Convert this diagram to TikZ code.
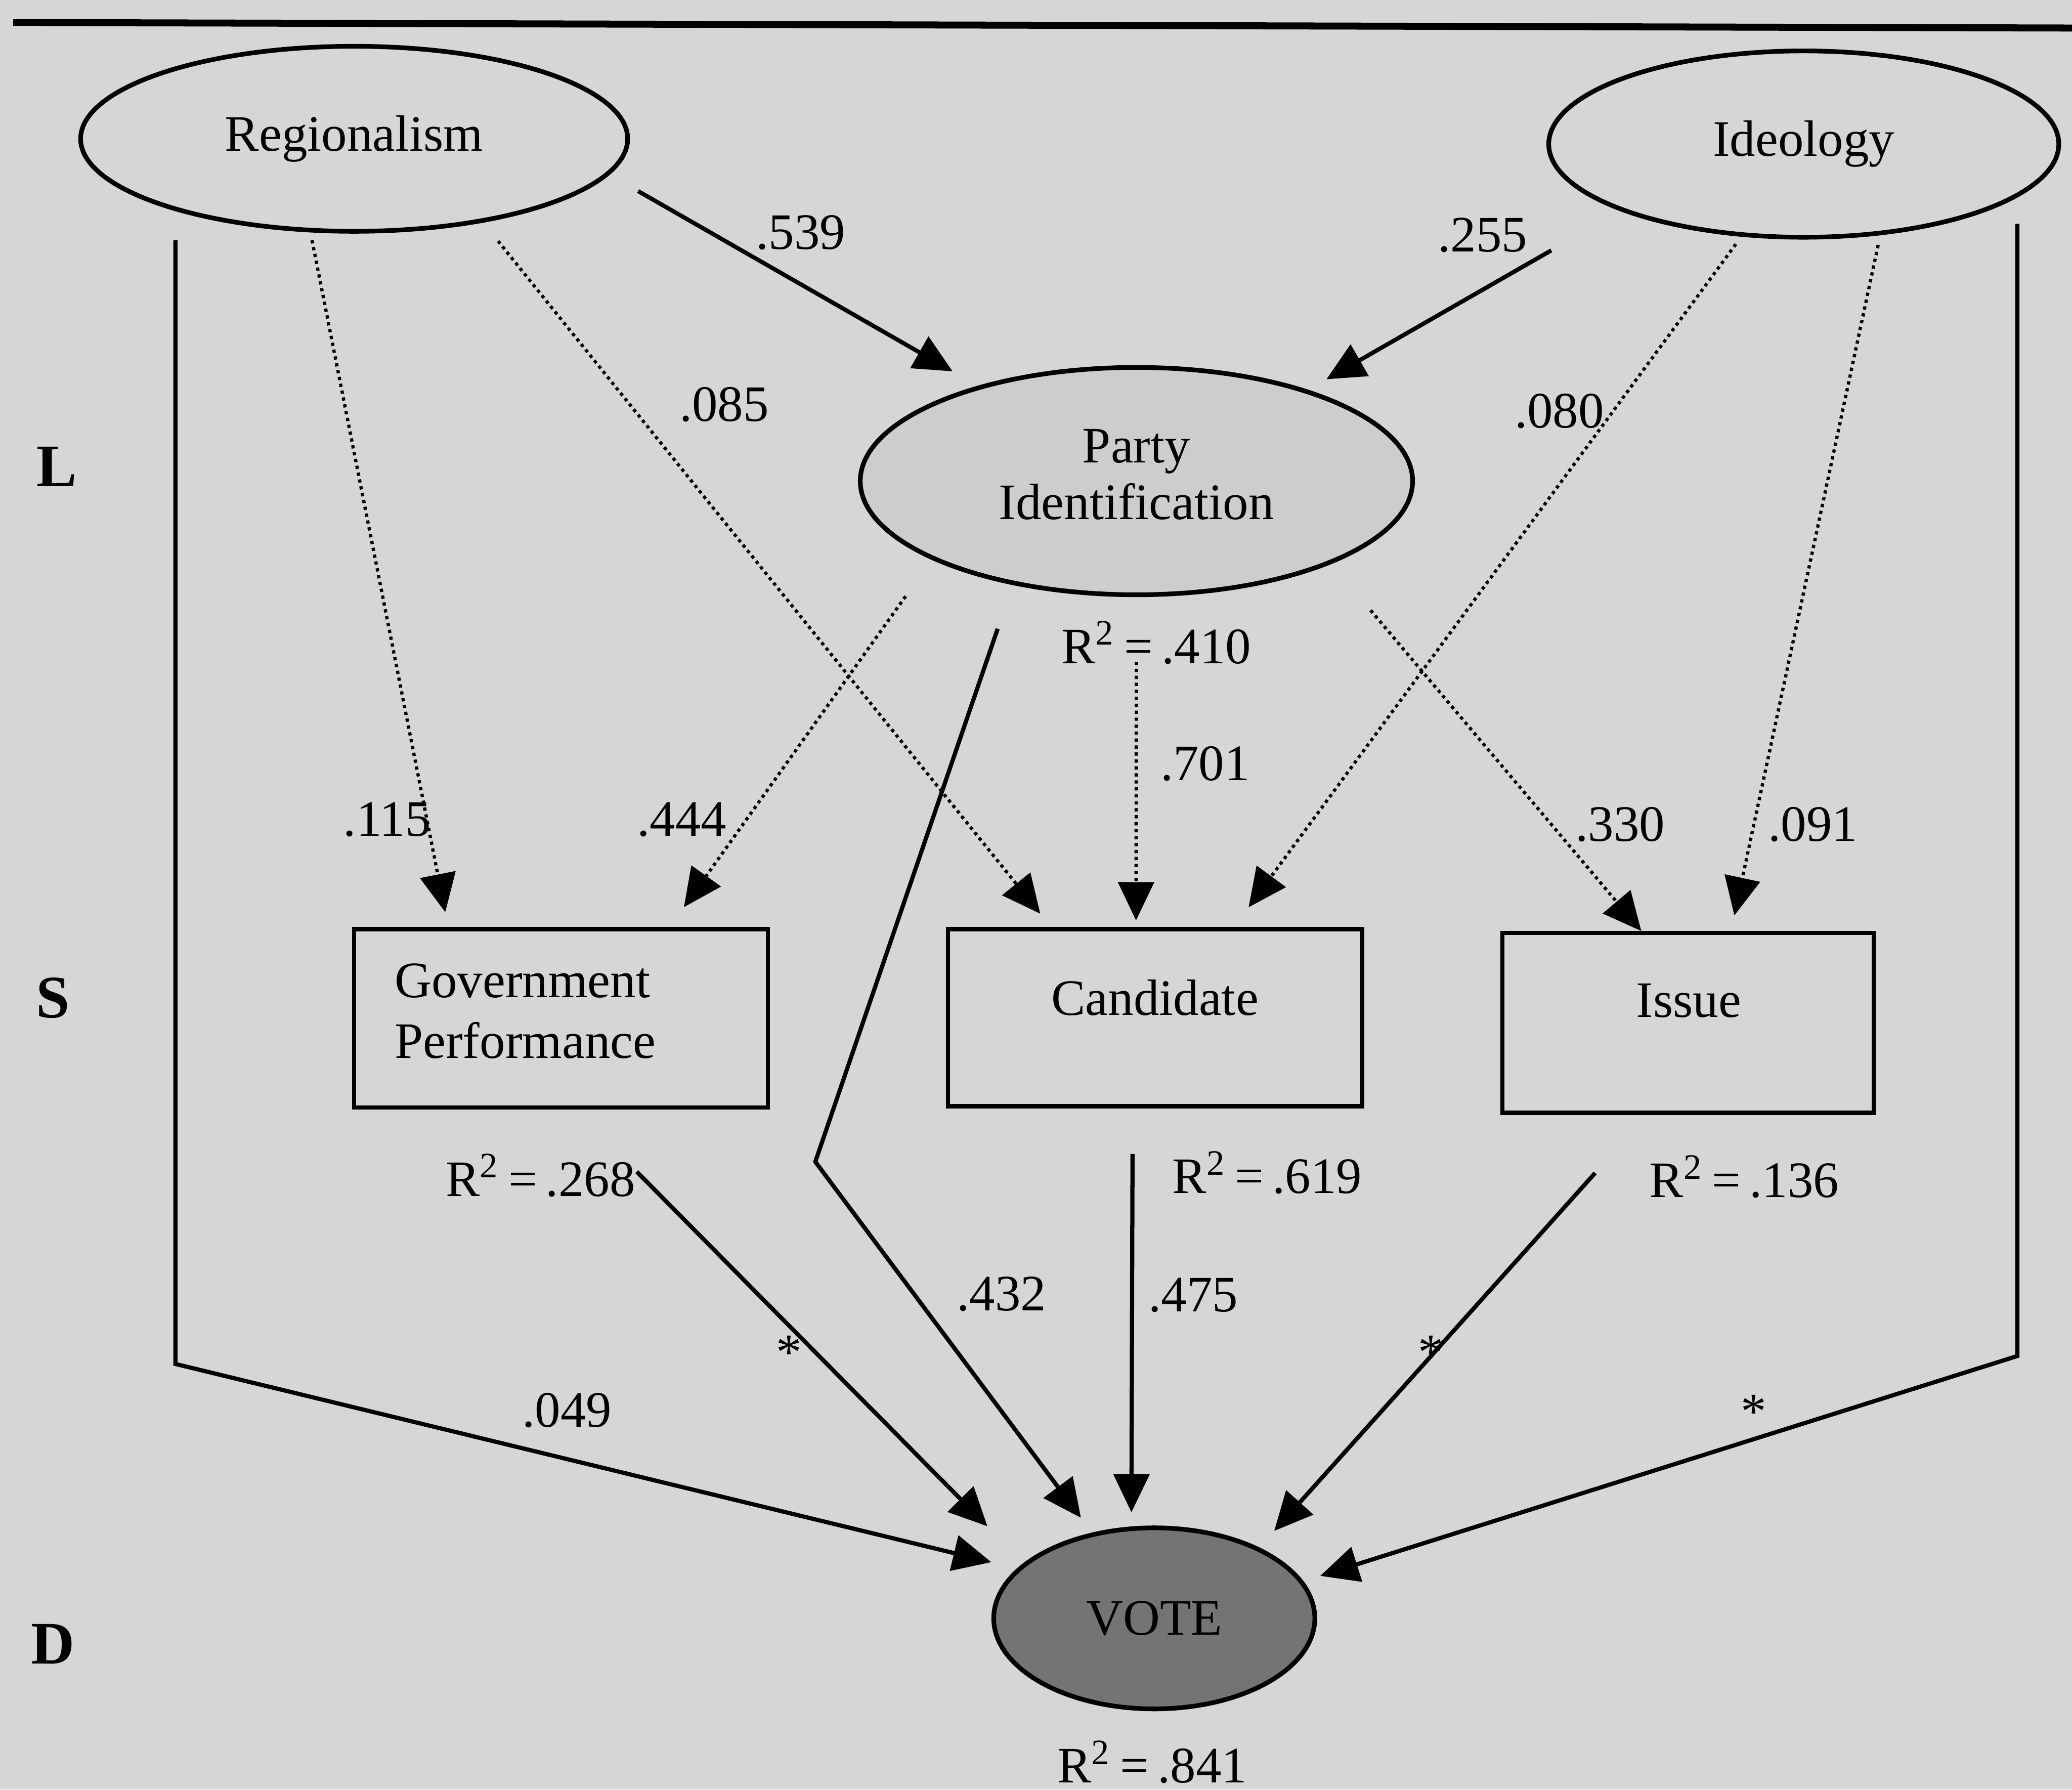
\documentclass[tikz,border=0pt]{standalone}
\usepackage{fontspec}
\setmainfont{Liberation Serif}
\usetikzlibrary{arrows.meta,shapes.geometric}
\definecolor{paper}{RGB}{214,214,214}
\definecolor{pidfill}{RGB}{205,205,205}
\definecolor{votefill}{RGB}{116,116,116}
\begin{document}
\begin{tikzpicture}[x=0.1mm,y=-0.1mm,
  txt/.style={font=\fontsize{11}{13}\selectfont, inner sep=0pt},
  latent/.style={ellipse, draw, line width=1pt, inner sep=0pt,
    font=\fontsize{11}{12.2}\selectfont, align=center},
  obsbox/.style={rectangle, draw, line width=0.9pt, inner sep=0pt},
  strongarr/.style={line width=0.9pt, -{Triangle[length=2.9mm,width=2.7mm]}},
  weakarr/.style={line width=0.7pt, dash pattern=on 0.7pt off 0.8pt,
    -{Triangle[length=2.9mm,width=2.7mm]}},
  level/.style={font=\fontsize{13}{15}\selectfont\bfseries, inner sep=0pt},
  star/.style={font=\fontsize{11}{13}\selectfont, inner sep=0pt, anchor=base}
]
% page and frame
\useasboundingbox (0,0) rectangle (1568,1354);
\fill[paper] (0,0) rectangle (1568,1354);
\draw[line width=1.5pt] (10,17) -- (1568,21.2);

% level markers
\node[level] (lvlL) at (43,353) {L};
\node[level] (lvlS) at (40,755) {S};
\node[level] (lvlD) at (40,1244) {D};

% latent variables
\node[latent, minimum width=41.4mm, minimum height=14mm] (reg) at (268,105) {Regionalism};
\node[latent, minimum width=38.6mm, minimum height=14.1mm] (ideo) at (1365,109) {Ideology};
\node[latent, fill=pidfill, minimum width=41.8mm, minimum height=17.2mm] (pid) at (860,364) {Party\\Identification\rule[-1mm]{0pt}{1mm}};

% short-term factors
\node[obsbox, minimum width=31.3mm, minimum height=13.5mm] (gov) at (424.5,770.5) {};
\node[txt, font=\fontsize{11}{13}\selectfont, align=left, anchor=west] (govtxt) at (298,765) {Government\\Performance};
\node[obsbox, minimum width=31.35mm, minimum height=13.4mm] (cand) at (874.25,770) {};
\node[txt] (candtxt) at (874,755) {Candidate};
\node[obsbox, minimum width=28.1mm, minimum height=13.6mm] (issue) at (1277.5,774) {};
\node[txt] (issuetxt) at (1278,757) {Issue};

% dependent variable
\node[latent, fill=votefill, minimum width=24.3mm, minimum height=13.7mm] (vote) at (873.5,1224.5) {VOTE};

% bend points
\coordinate (regturn) at (132.5,1032);
\coordinate (ideoturn) at (1521,1026);
\coordinate (pidturn) at (617,879);

% explained variance
\node[txt, anchor=base] (r2pid) at (875,502) {R\textsuperscript{2}\,=\,.410};
\node[txt, anchor=base] (r2gov) at (409,905) {R\textsuperscript{2}\,=\,.268};
\node[txt, anchor=base] (r2cand) at (959,903) {R\textsuperscript{2}\,=\,.619};
\node[txt, anchor=base] (r2issue) at (1320,906) {R\textsuperscript{2}\,=\,.136};
\node[txt, anchor=base] (r2vote) at (872,1349) {R\textsuperscript{2}\,=\,.841};

% long-term effects
\draw[strongarr, shorten <=2.5mm, shorten >=2.2mm] (reg.-8.6) -- (pid.149.9);
\draw[strongarr, shorten <=6mm, shorten >=1.6mm] (ideo.-160.2) -- (pid.28.9);
\draw[weakarr, shorten <=0.6mm, shorten >=1.15mm] (reg.-115.2) -- (gov.141.6);
\draw[weakarr, shorten <=1.8mm, shorten >=1.3mm] (reg.-33.3) -- (cand.139.4);
\draw[weakarr, shorten <=3.4mm, shorten >=1.85mm] (pid.-159.1) -- (gov.40.3);
\draw[weakarr, shorten <=4.9mm, shorten >=0.5mm] (pid.-90) -- (cand.102);
\draw[weakarr, shorten <=0.7mm, shorten >=1.86mm] (ideo.-124.1) -- (cand.49.8);
\draw[weakarr, shorten <=4.6mm] (pid.-23.85) -- (issue.117.9);
\draw[weakarr, shorten <=0.76mm, shorten >=1.2mm] (ideo.-50.6) -- (issue.65.3);

% effects on the vote
\draw[strongarr, shorten <=2.2mm, shorten >=2mm] (reg.-158.7) -- (reg.-158.7 |- regturn) -- (vote.160.9);
\draw[strongarr, shorten <=2mm, shorten >=1.33mm] (ideo.-14.9) -- (ideo.-14.9 |- ideoturn) -- (vote.14.5);
\draw[strongarr, shorten <=3.5mm, shorten >=1.4mm] (pid.-140.1) -- (pidturn) -- (vote.126.1);
\draw[strongarr, shorten <=6.6mm, shorten >=3.9mm] (gov.-81.4) -- (vote.157.5);
\draw[strongarr, shorten <=3.45mm, shorten >=1.07mm] (cand.-104.8) -- (vote.104.1);
\draw[strongarr, shorten <=5.9mm, shorten >=1.68mm] (issue.-114.5) -- (vote.34.6);

% coefficients
\node[txt] (c539) at (606,176) {.539};
\node[txt] (c255) at (1122,178) {.255};
\node[txt] (c085) at (548,306) {.085};
\node[txt] (c080) at (1180,311) {.080};
\node[txt] (c701) at (912,578) {.701};
\node[txt] (c115) at (293,620) {.115};
\node[txt] (c444) at (516,620) {.444};
\node[txt] (c330) at (1226,624) {.330};
\node[txt] (c091) at (1372,624) {.091};
\node[txt] (c432) at (758,979) {.432};
\node[txt] (c475) at (903,980) {.475};
\node[txt] (c049) at (429,1067) {.049};
\node[star] (sgov) at (597,1036) {*};
\node[star] (sissue) at (1083,1036) {*};
\node[star] (sideo) at (1327,1081) {*};
\end{tikzpicture}
\end{document}
